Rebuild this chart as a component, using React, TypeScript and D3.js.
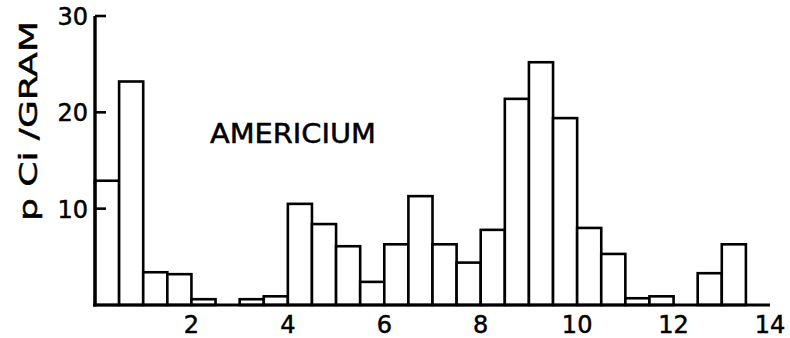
import React from "react";
import * as d3 from "d3";

// Americium activity per half-unit interval
const binStarts = [0, 0.5, 1, 1.5, 2, 2.5, 3, 3.5, 4, 4.5, 5, 5.5, 6, 6.5, 7, 7.5, 8, 8.5, 9, 9.5, 10, 10.5, 11, 11.5, 12, 12.5, 13];
const values = [12.9, 23.2, 3.4, 3.2, 0.6, 0, 0.6, 0.9, 10.5, 8.4, 6.1, 2.4, 6.3, 11.3, 6.3, 4.4, 7.8, 21.4, 25.2, 19.4, 8.0, 5.3, 0.7, 0.9, 0, 3.3, 6.3];
const binWidth = 0.5;
const xTicks = [2, 4, 6, 8, 10, 12, 14];
const yTicks = [10, 20, 30];
const yTitle = "p Ci /GRAM";
const seriesLabel = "AMERICIUM";

const W = 790;
const H = 338;
const FONT = "'DejaVu Sans', 'Liberation Sans', sans-serif";

export default function App() {
  const x = d3.scaleLinear().domain([0, 14]).range([95, 770]);
  const y = d3.scaleLinear().domain([0, 30]).range([305, 16]);

  const bars = binStarts.map((s, i) => ({ s, v: values[i] })).filter((d) => d.v > 0);

  const textStyle = { fontFamily: FONT, fill: "#000", stroke: "#000", strokeWidth: 0.5 };

  return (
    <svg
      width={W}
      height={H}
      style={{ position: "absolute", left: 0, top: 0, background: "#fff" }}
    >
      {/* bars */}
      {bars.map((d, i) => (
        <rect
          key={i}
          x={x(d.s)}
          y={y(d.v)}
          width={x(d.s + binWidth) - x(d.s)}
          height={y(0) - y(d.v)}
          fill="#fff"
          stroke="#000"
          strokeWidth={2.6}
        />
      ))}

      {/* x axis */}
      <line x1={x(0) - 2} x2={x(14)} y1={y(0)} y2={y(0)} stroke="#000" strokeWidth={3} />
      {xTicks.map((t) => (
        <text key={t} x={x(t)} y={333} textAnchor="middle" fontSize={24} {...textStyle}>
          {t}
        </text>
      ))}

      {/* y axis */}
      <line x1={x(0)} x2={x(0)} y1={y(0) + 1.5} y2={y(30)} stroke="#000" strokeWidth={3.4} />
      {yTicks.map((t) => (
        <g key={t}>
          <line x1={x(0)} x2={x(0) + 11} y1={y(t)} y2={y(t)} stroke="#000" strokeWidth={2.6} />
          <text x={88} y={y(t) + 9} textAnchor="end" fontSize={24} {...textStyle}>
            {t}
          </text>
        </g>
      ))}

      {/* axis title */}
      <text
        transform={`translate(37,121) rotate(-90)`}
        x={-100}
        textLength={200}
        lengthAdjust="spacingAndGlyphs"
        fontSize={25}
        {...textStyle}
      >
        {yTitle}
      </text>

      {/* series label */}
      <text
        x={210}
        y={143}
        fontSize={26}
        textLength={166}
        lengthAdjust="spacingAndGlyphs"
        {...textStyle}
      >
        {seriesLabel}
      </text>
    </svg>
  );
}
